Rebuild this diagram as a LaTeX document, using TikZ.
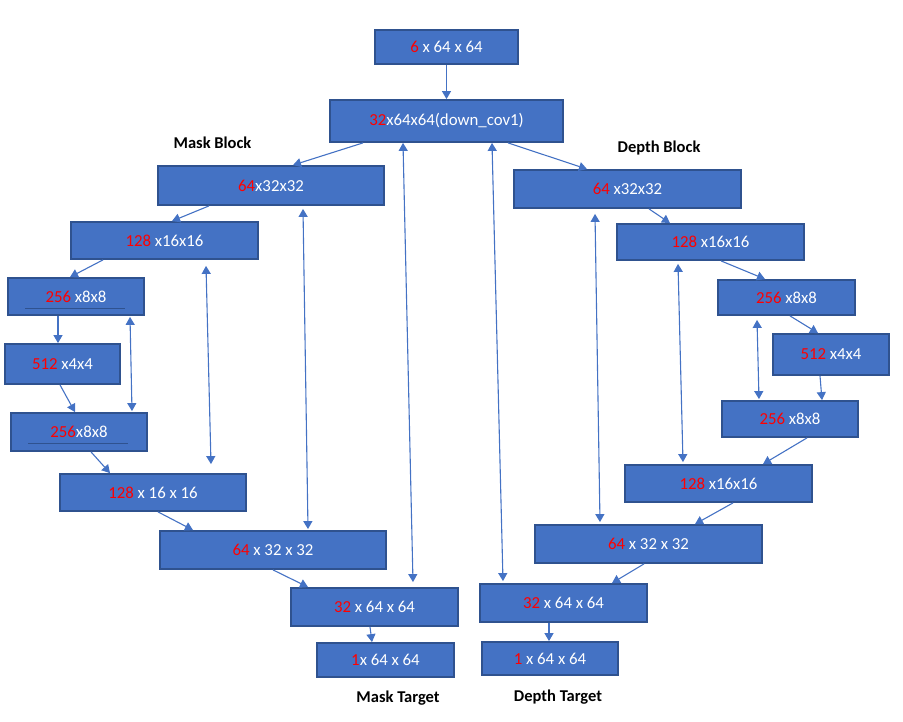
\documentclass[tikz,border=0pt]{standalone}
\usepackage{fontspec}
\setmainfont{Carlito}
\usepackage{xcolor}
\usetikzlibrary{arrows.meta}
\definecolor{boxblue}{HTML}{4472C4}
\definecolor{boxedge}{HTML}{2F528F}
\newcommand\chn[1]{{\color{red}{#1}}}

\begin{document}
\begin{tikzpicture}[x=1pt, y=-1pt,
    box/.style={draw=boxedge, line width=1.8pt, fill=boxblue, text=white, inner sep=0pt,
      font=\fontsize{16.8}{19}\selectfont},
    lbl/.style={font=\fontsize{16.5}{19}\selectfont\bfseries},
    fwd/.style={draw=boxblue, line width=1.1pt, -{Triangle[width=9pt,length=8pt]}},
    skip/.style={draw=boxblue, line width=1.1pt, {Triangle[width=9pt,length=8pt]}-{Triangle[width=9pt,length=8pt]}}]
          \useasboundingbox (0,0) rectangle (903,722);

          \node [box, minimum width=143pt, minimum height=34pt] (in) at (446.5,47) {\chn{6} x 64 x 64};
          \node [box, minimum width=233pt, minimum height=42pt] (dc1) at (446.5,121) {\chn{32}x64x64(down\_cov1)};

          % mask branch
          \node [lbl] (mblock) at (212.5,143) {Mask Block};
          \node [box, minimum width=226pt, minimum height=39pt] (m64) at (271,185.5) {\chn{64}x32x32};
          \node [box, minimum width=187pt, minimum height=37pt] (m128) at (164.5,240.5) {\chn{128} x16x16};
          \node [box, minimum width=136pt, minimum height=37pt] (m256) at (76,296.5) {\chn{256} x8x8};
          \node [box, minimum width=115pt, minimum height=40pt] (m512) at (62.5,364) {\chn{512} x4x4};
          \node [box, minimum width=136pt, minimum height=38pt] (m256u) at (79,432) {\chn{256}x8x8};
          \node [box, minimum width=186pt, minimum height=37pt] (m128u) at (153,492.5) {\chn{128} x 16 x 16};
          \node [box, minimum width=226pt, minimum height=38pt] (m64u) at (273,550) {\chn{64} x 32 x 32};
          \node [box, minimum width=167pt, minimum height=38pt] (m32) at (374.5,607) {\chn{32} x 64 x 64};
          \node [box, minimum width=137pt, minimum height=34pt] (m1) at (385.5,660) {\chn{1}x 64 x 64};
          \node [lbl] (mtarget) at (398,698) {Mask Target};
          \draw [boxedge, line width=0.7pt] ([shift={(-51,11.5)}]m256.center) -- ([shift={(49,11.5)}]m256.center);
          \draw [boxedge, line width=0.7pt] ([shift={(-51,11)}]m256u.center) -- ([shift={(49,11)}]m256u.center);

          % depth branch
          \node [lbl] (dblock) at (659,148) {Depth Block};
          \node [box, minimum width=227pt, minimum height=38pt] (d64) at (627.5,189) {\chn{64} x32x32};
          \node [box, minimum width=187pt, minimum height=36pt] (d128) at (710.5,242) {\chn{128} x16x16};
          \node [box, minimum width=137pt, minimum height=35pt] (d256) at (786.5,297.5) {\chn{256} x8x8};
          \node [box, minimum width=116pt, minimum height=41pt] (d512) at (831,354.5) {\chn{512} x4x4};
          \node [box, minimum width=136pt, minimum height=36pt] (d256u) at (790,419) {\chn{256} x8x8};
          \node [box, minimum width=187pt, minimum height=37pt] (d128u) at (718.5,483.5) {\chn{128} x16x16};
          \node [box, minimum width=227pt, minimum height=38pt] (d64u) at (648.5,544) {\chn{64} x 32 x 32};
          \node [box, minimum width=167pt, minimum height=38pt] (d32) at (563.5,603) {\chn{32} x 64 x 64};
          \node [box, minimum width=136pt, minimum height=33pt] (d1) at (550,658.5) {\chn{1} x 64 x 64};
          \node [lbl] (dtarget) at (558,697) {Depth Target};

          % forward arrows
          \draw [fwd] (in.south) -- (dc1.north);
          \draw [fwd] ([xshift=-83.5]dc1.south) -- ([xshift=22]m64.north);
          \draw [fwd] ([xshift=61.5]dc1.south) -- ([xshift=-40.5]d64.north);
          \draw [fwd] ([xshift=-62]m64.south) -- ([xshift=7.5]m128.north);
          \draw [fwd] ([xshift=-61.5]m128.south) -- ([xshift=-6]m256.north);
          \draw [fwd] ([xshift=-18]m256.south) -- ([xshift=-4.5]m512.north);
          \draw [fwd] ([xshift=-2.5]m512.south) -- ([xshift=-4]m256u.north);
          \draw [fwd] ([xshift=12]m256u.south) -- ([xshift=-43]m128u.north);
          \draw [fwd] ([xshift=5]m128u.south) -- ([xshift=-80]m64u.north);
          \draw [fwd] (m64u.south) -- ([xshift=-66.5]m32.north);
          \draw [fwd] ([xshift=-4.5]m32.south) -- ([xshift=-13.5]m1.north);
          \draw [fwd] ([xshift=21.5]d64.south) -- ([xshift=-40.5]d128.north);
          \draw [fwd] ([xshift=10.5]d128.south) -- ([xshift=-21.5]d256.north);
          \draw [fwd] ([xshift=3.5]d256.south) -- ([xshift=-13]d512.north);
          \draw [fwd] ([xshift=-11]d512.south) -- ([xshift=32]d256u.north);
          \draw [fwd] ([xshift=17]d256u.south) -- ([xshift=44.5]d128u.north);
          \draw [fwd] ([xshift=14.5]d128u.south) -- ([xshift=46.5]d64u.north);
          \draw [fwd] ([xshift=-4.5]d64u.south) -- ([xshift=48.5]d32.north);
          \draw [fwd] ([xshift=-14.5]d32.south) -- ([xshift=-1]d1.north);

          % skip connections
          \draw [skip] ([xshift=-43.5]dc1.south) -- ([shift={(38.5,-5)}]m32.north);
          \draw [skip] ([xshift=45.5]dc1.south) -- ([shift={(-60.5,-2)}]d32.north);
          \draw [skip] ([shift={(32,3)}]m64.south) -- ([shift={(35,-1)}]m64u.north);
          \draw [skip] ([shift={(41.5,6)}]m128.south) -- ([shift={(58,-9)}]m128u.north);
          \draw [skip] ([shift={(54,1)}]m256.south) -- ([shift={(53,-1)}]m256u.north);
          \draw [skip] ([shift={(-32.5,5)}]d64.south) -- ([shift={(-48.5,-2)}]d64u.north);
          \draw [skip] ([shift={(-32.5,3)}]d128.south) -- ([shift={(-35.5,-2)}]d128u.north);
          \draw [skip] ([shift={(-29.5,4)}]d256.south) -- ([shift={(-31,-1)}]d256u.north);
        \end{tikzpicture}
\end{document}
